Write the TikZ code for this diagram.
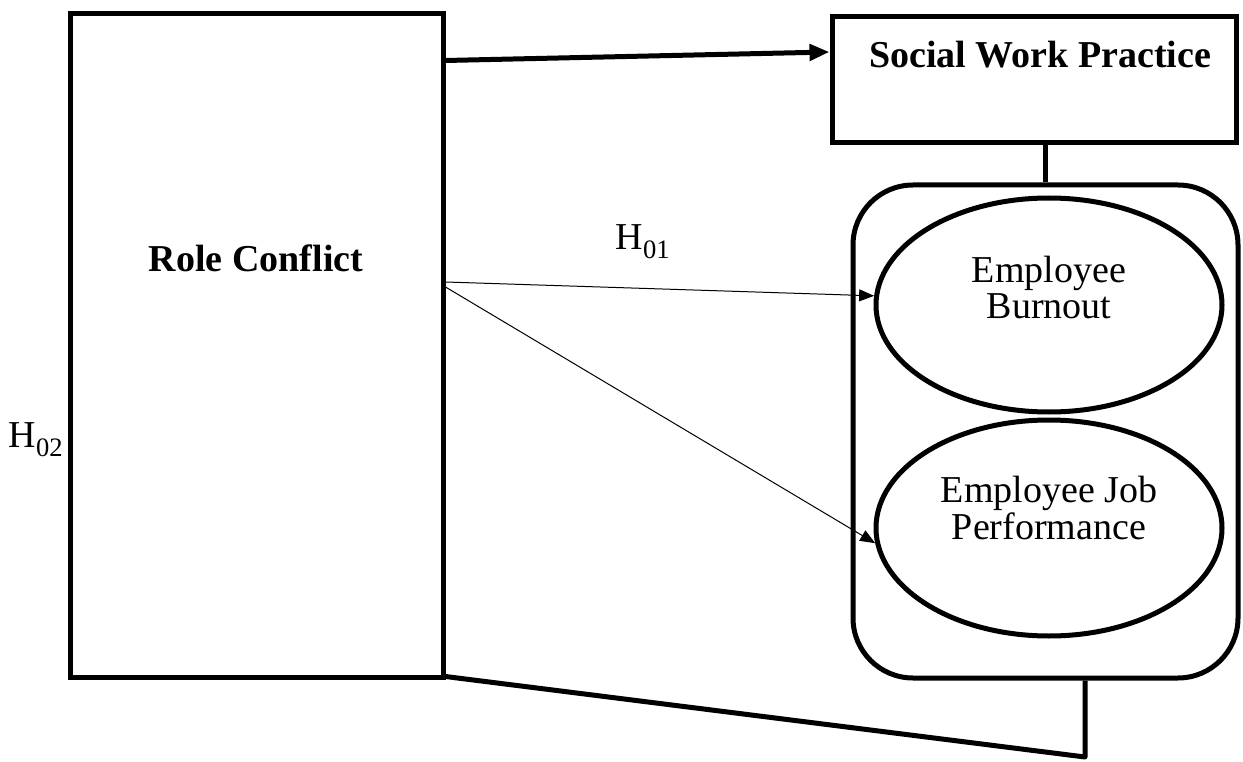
\documentclass[tikz,border=0pt]{standalone}
\usepackage{fontspec}
\setmainfont{Liberation Serif}
\usetikzlibrary{arrows.meta,shapes.geometric}
\begin{document}
\begin{tikzpicture}[x=1pt,y=-1pt,
  thickline/.style={line width=5pt},
  thinline/.style={line width=1pt},
  boxst/.style={draw,thickline,rectangle,inner sep=0pt},
  ellst/.style={draw,thickline,ellipse,inner sep=0pt},
  big/.style={font=\fontsize{38}{36}\selectfont},
  bigbold/.style={font=\fontsize{38}{36}\selectfont\bfseries},
  bigtip/.style={-{Triangle[length=20pt,width=16pt]}},
  smalltip/.style={-{Triangle[length=15pt,width=12pt]}}
]
\useasboundingbox (0,0) rectangle (1243,762);
\node[boxst, minimum width=373pt, minimum height=663pt] (rc) at (256.5,345.5) {};
\node[boxst, minimum width=404pt, minimum height=126pt] (swp) at (1034,80) {};
\node[boxst, rounded corners=60pt, minimum width=385pt, minimum height=493pt] (grp) at (1045.5,431.5) {};
\node[ellst, minimum width=346pt, minimum height=214pt] (e1) at (1049,305) {};
\node[ellst, minimum width=346pt, minimum height=216pt] (e2) at (1049,528) {};
\node[bigbold] (rct) at (256,258) {Role Conflict};
\node[bigbold] (swpt) at (1040,55) {Social Work Practice};
\node[big, align=center] (e1t) at (1049,288) {Employee\\Burnout};
\node[big, align=center] (e2t) at (1049,508) {Employee Job\\Performance};
\node[big] (h1) at (643,242) {H\textsubscript{01}};
\node[big] (h2) at (36,440) {H\textsubscript{02}};
\coordinate (c) at (1085,757);
\draw[thickline, bigtip] ([yshift=-49pt]rc.north east) -- ([yshift=28pt]swp.west);
\draw[thickline] (grp.north) -- (grp.north |- swp.south);
\draw[thinline, smalltip] ([yshift=63.5pt]rc.east) -- (e1.177);
\draw[thinline, smalltip] ([yshift=58.5pt]rc.east) -- (e2.185);
\draw[thickline, line join=round] ([yshift=3pt]rc.south east) -- (c) -- (c |- grp.south);
\end{tikzpicture}
\end{document}
